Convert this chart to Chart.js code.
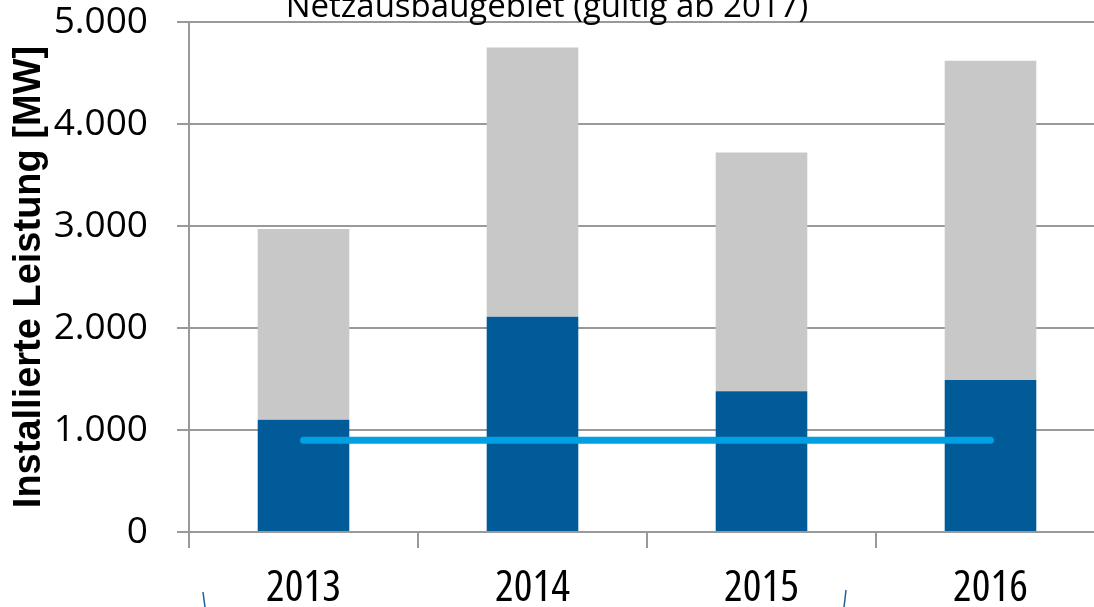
<!DOCTYPE html>
<html lang="de">
<head>
  <meta charset="UTF-8" />
  <title>Installierte Leistung</title>
  <script src="https://cdn.jsdelivr.net/npm/chart.js"></script>
  <style>
    body, html {
      margin: 0;
      padding: 0;
      background: #fff;
      overflow: hidden;
    }

    #frame {
      width: 1094px;
      height: 607px;
      overflow: hidden;
      position: relative;
    }

    #wrap {
      width: 1110px;
      height: 607px;
      position: absolute;
      left: 0;
      top: 0;
    }
  </style>
</head>
<body>
  <div id="frame">
    <div id="wrap">
      <canvas id="chart"></canvas>
    </div>
  </div>

  <script>
    // Data
    const years = ['2013', '2014', '2015', '2016'];
    const blueValues = [1100, 2110, 1380, 1490];
    const greyValues = [1870, 2640, 2340, 3130];
    const capValues = [900, 900, 900, 900];
    const titleText = 'Netzausbaugebiet (gültig ab 2017)';
    const axisTitle = 'Installierte Leistung [MW]';

    const gridColor = '#999999';

    // Title cut off at the top edge, plus the two stray shape edges at the bottom
    const extras = {
      id: 'extras',
      afterDraw(chart) {
        const ctx = chart.ctx;
        ctx.save();
        ctx.fillStyle = '#000';
        ctx.font = '33px "Open Sans", sans-serif';
        ctx.textAlign = 'center';
        ctx.textBaseline = 'alphabetic';
        ctx.fillText(titleText, 547, 17);

        ctx.strokeStyle = '#1f5f9a';
        ctx.lineWidth = 1.5;
        ctx.beginPath();
        ctx.moveTo(203, 592);
        ctx.quadraticCurveTo(204, 600, 205, 607);
        ctx.moveTo(846, 590);
        ctx.quadraticCurveTo(845, 599, 844, 607);
        ctx.stroke();
        ctx.restore();
      }
    };

    new Chart(document.getElementById('chart'), {
      type: 'bar',
      data: {
        labels: years,
        datasets: [
          {
            label: 'Netzausbaugebiet',
            data: blueValues,
            backgroundColor: '#005b98',
            stack: 'bars',
            order: 2
          },
          {
            label: 'Übrige',
            data: greyValues,
            backgroundColor: '#c8c8c8',
            stack: 'bars',
            order: 2
          },
          {
            type: 'line',
            label: 'Obergrenze',
            data: capValues,
            borderColor: '#00a0e2',
            borderWidth: 7,
            borderCapStyle: 'round',
            pointRadius: 0,
            stack: 'line',
            order: 1
          }
        ]
      },
      options: {
        responsive: true,
        maintainAspectRatio: false,
        animation: false,
        barPercentage: 0.4,
        categoryPercentage: 1,
        layout: { padding: { top: 0, right: 5, left: 0, bottom: 0 } },
        plugins: {
          legend: { display: false },
          tooltip: { enabled: false }
        },
        scales: {
          x: {
            stacked: true,
            offset: true,
            grid: {
              offset: true,
              drawOnChartArea: false,
              drawTicks: true,
              tickLength: 16,
              color: gridColor,
              lineWidth: 2
            },
            border: { color: gridColor, width: 2 },
            ticks: {
              color: '#000',
              padding: 18,
              font: { family: '"Open Sans", sans-serif', size: 44, weight: 'condensed', lineHeight: 1 }
            },
            afterFit(scale) { scale.height = 75; }
          },
          y: {
            stacked: true,
            min: 0,
            max: 5000,
            grid: {
              color: gridColor,
              lineWidth: 2,
              tickLength: 12
            },
            border: { color: gridColor, width: 2 },
            ticks: {
              stepSize: 1000,
              color: '#000',
              padding: 29,
              font: { family: '"Open Sans", sans-serif', size: 37 },
              callback: (v) => String(v).replace(/\B(?=(\d{3})+(?!\d))/g, '.')
            },
            title: {
              display: true,
              text: axisTitle,
              color: '#000',
              padding: { top: 7, bottom: 0 },
              font: { family: '"Liberation Sans", sans-serif', size: 38, weight: 'bold', lineHeight: 1.2 }
            },
            afterFit(scale) {
              scale.width = 189;
              scale.paddingTop = 22;
            }
          }
        }
      },
      plugins: [extras]
    });
  </script>
</body>
</html>
